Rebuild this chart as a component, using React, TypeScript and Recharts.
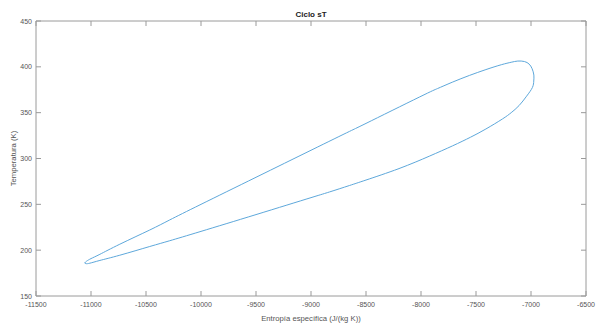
import { Line, LineChart, XAxis, YAxis } from "recharts";

// Ciclo sT: closed loop traced from the left tip, along the upper branch, round the right end and back.
const entropy = [
  -11058, -11040, -11000, -10919, -10738, -10466, -10284, -10000, -9500, -9000,
  -8651, -8500, -8015, -7850, -7716, -7560, -7410, -7270, -7180, -7120,
  -7060, -7017, -6990, -6974, -6975, -6987, -7040, -7108, -7180, -7260,
  -7410, -7550, -7713, -7925, -8200, -8500, -8651, -8832, -9000, -9500,
  -10000, -10284, -10466, -10738, -10919, -11010, -11045, -11058,
];
const temperature = [
  186, 188, 190.8, 195.5, 206.5, 222, 233, 250, 279.5, 309,
  329.5, 338.3, 367, 376.3, 383.2, 390.6, 397, 402.3, 405, 406.3,
  405.8, 403, 398, 391, 384.5, 377.5, 368, 357.8, 350, 343.1,
  332.2, 323.2, 313.8, 302.5, 289, 276.5, 270.5, 263.5, 257.3, 238.8,
  220.5, 210.3, 204, 194.5, 188.8, 185.8, 185.3, 186,
];
const xTicks = [-11500, -11000, -10500, -10000, -9500, -9000, -8500, -8000, -7500, -7000, -6500];
const yTicks = [150, 200, 250, 300, 350, 400, 450];

const data = entropy.map((s, i) => ({ s, T: temperature[i] }));

const AXIS = "#9a9a9a";
const TEXT = "#555555";
const FONT = "'Liberation Sans', Arial, sans-serif";

function BottomTick({ x, y, payload }: any) {
  return (
    <g>
      <line x1={x} x2={x} y1={y} y2={y - 5} stroke={AXIS} />
      <text x={x} y={y + 10.5} textAnchor="middle" fontSize={7} fill={TEXT} fontFamily={FONT}>
        {payload.value}
      </text>
    </g>
  );
}

function LeftTick({ x, y, payload }: any) {
  return (
    <g>
      <line x1={x} x2={x + 5} y1={y} y2={y} stroke={AXIS} />
      <text x={x - 4} y={y + 2.5} textAnchor="end" fontSize={7} fill={TEXT} fontFamily={FONT}>
        {payload.value}
      </text>
    </g>
  );
}

function TopTick({ x, y }: any) {
  return <line x1={x} x2={x} y1={y} y2={y + 5} stroke={AXIS} />;
}

function RightTick({ x, y }: any) {
  return <line x1={x} x2={x - 5} y1={y} y2={y} stroke={AXIS} />;
}

export default function App() {
  return (
    <div style={{ position: "absolute", left: 0, top: 0, background: "#fff" }}>
      <LineChart
        width={601}
        height={330}
        data={data}
        margin={{ top: 20, right: 14, bottom: 0, left: 0 }}
      >
        <XAxis
          xAxisId="b"
          dataKey="s"
          type="number"
          domain={[-11500, -6500]}
          ticks={xTicks}
          interval={0}
          height={34}
          tickSize={0}
          tickMargin={0}
          tickLine={false}
          axisLine={{ stroke: AXIS }}
          tick={<BottomTick />}
          label={{
            value: "Entropía específica (J/(kg K))",
            position: "insideBottom",
            offset: 9,
            fontSize: 7.7,
            fill: TEXT,
            fontFamily: FONT,
          }}
        />
        <XAxis
          xAxisId="t"
          orientation="top"
          dataKey="s"
          type="number"
          domain={[-11500, -6500]}
          ticks={xTicks}
          interval={0}
          height={1}
          tickSize={0}
          tickMargin={0}
          tickLine={false}
          axisLine={{ stroke: AXIS }}
          tick={<TopTick />}
          label={{
            value: "Ciclo sT",
            position: "top",
            offset: 3,
            fontSize: 8,
            fontWeight: "bold",
            fill: "#222",
            fontFamily: FONT,
          }}
        />
        <YAxis
          yAxisId="l"
          dataKey="T"
          type="number"
          domain={[150, 450]}
          ticks={yTicks}
          interval={0}
          width={36}
          tickSize={0}
          tickMargin={0}
          tickLine={false}
          axisLine={{ stroke: AXIS }}
          tick={<LeftTick />}
          label={{
            value: "Temperatura (K)",
            angle: -90,
            position: "insideLeft",
            offset: 13,
            fontSize: 7.7,
            fill: TEXT,
            fontFamily: FONT,
            style: { textAnchor: "middle" },
          }}
        />
        <YAxis
          yAxisId="r"
          orientation="right"
          dataKey="T"
          type="number"
          domain={[150, 450]}
          ticks={yTicks}
          interval={0}
          width={1}
          tickSize={0}
          tickMargin={0}
          tickLine={false}
          axisLine={{ stroke: AXIS }}
          tick={<RightTick />}
        />
        <Line
          xAxisId="t"
          yAxisId="r"
          dataKey="T"
          type="linear"
          stroke="none"
          dot={false}
          activeDot={false}
          isAnimationActive={false}
        />
        <Line
          xAxisId="b"
          yAxisId="l"
          dataKey="T"
          type="natural"
          stroke="#5ea8db"
          strokeWidth={1}
          dot={false}
          isAnimationActive={false}
        />
      </LineChart>
    </div>
  );
}
